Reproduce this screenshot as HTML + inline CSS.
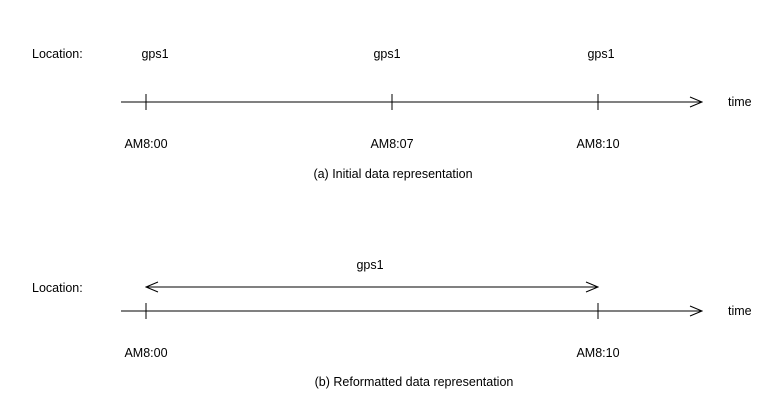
<!DOCTYPE html>
<html><head><meta charset="utf-8"><style>
html,body{margin:0;padding:0;background:#fff;}
svg{display:block;font-family:"Liberation Sans",sans-serif;font-size:12.5px;}
</style></head><body>
<svg id="c" width="775" height="413" xmlns="http://www.w3.org/2000/svg">
<defs>
<marker id="ar" markerWidth="14" markerHeight="12" refX="13" refY="6" orient="auto-start-reverse" markerUnits="userSpaceOnUse">
<path d="M1,1 L13,6 L1,11" fill="none" stroke="#000" stroke-width="1"/>
</marker>
</defs>
</svg>
<script>
const tickMinutesA = [0, 7, 10];
const tickLabelsA = ["AM8:00", "AM8:07", "AM8:10"];
const locationsA = ["gps1", "gps1", "gps1"];
const tickMinutesB = [0, 10];
const tickLabelsB = ["AM8:00", "AM8:10"];
const intervalB = [0, 10];
const intervalLabelB = "gps1";

const NS = "http://www.w3.org/2000/svg";
const svg = document.getElementById('c');
const locOffsets = [9, -5, 3];
const dom = [0, 7, 10], rng = [146, 392, 598];
function x(m){
  for (let i = 0; i < dom.length - 1; i++) {
    if (m <= dom[i+1] || i === dom.length - 2) {
      return rng[i] + (m - dom[i]) / (dom[i+1] - dom[i]) * (rng[i+1] - rng[i]);
    }
  }
}
function mk(tag, attrs, text){
  const e = document.createElementNS(NS, tag);
  for (const k in attrs) e.setAttribute(k, attrs[k]);
  if (text !== undefined) e.textContent = text;
  svg.appendChild(e);
  return e;
}
function panel(y, ticks, labels, locs, locY, interval, caption, capX, capY, key){
  let t = mk('text', {x: 32, y: locY, fill: '#000'}, 'Location:');
  
  
  let ax = mk('line', {x1: 121, y1: y, x2: 702, y2: y, stroke: '#000', 'stroke-width': 1, 'marker-end': 'url(#ar)'});
  
  
  let tl = mk('text', {x: 728, y: y + 4, fill: '#000'}, 'time');
  
  
  ticks.forEach((m, i) => {
    const px = x(m);
    let tk = mk('line', {x1: px, y1: y - 8, x2: px, y2: y + 8, stroke: '#000', 'stroke-width': 1});
    
    
    let lb = mk('text', {x: px, y: y + 46, 'text-anchor': 'middle', fill: '#000'}, labels[i]);
    
    
    if (locs) {
      let g = mk('text', {x: px + locOffsets[i], y: y - 44, 'text-anchor': 'middle', fill: '#000'}, locs[i]);
      
      
    }
  });
  if (interval) {
    const x1 = x(interval[0]), x2 = x(interval[1]);
    let il = mk('line', {x1: x1, y1: y - 24, x2: x2, y2: y - 24, stroke: '#000', 'stroke-width': 1, 'marker-start': 'url(#ar)', 'marker-end': 'url(#ar)'});
    
    
    let it = mk('text', {x: (x1 + x2) / 2 - 2, y: y - 42, 'text-anchor': 'middle', fill: '#000'}, intervalLabelB);
    
    
  }
  let cp = mk('text', {x: capX, y: capY, 'text-anchor': 'middle', fill: '#000'}, caption);
  
  
}
panel(102, tickMinutesA, tickLabelsA, locationsA, 58, null, '(a) Initial data representation', 393, 178, 'a');
panel(311, tickMinutesB, tickLabelsB, null, 292, intervalB, '(b) Reformatted data representation', 414, 386, 'b');
</script>
</body></html>
